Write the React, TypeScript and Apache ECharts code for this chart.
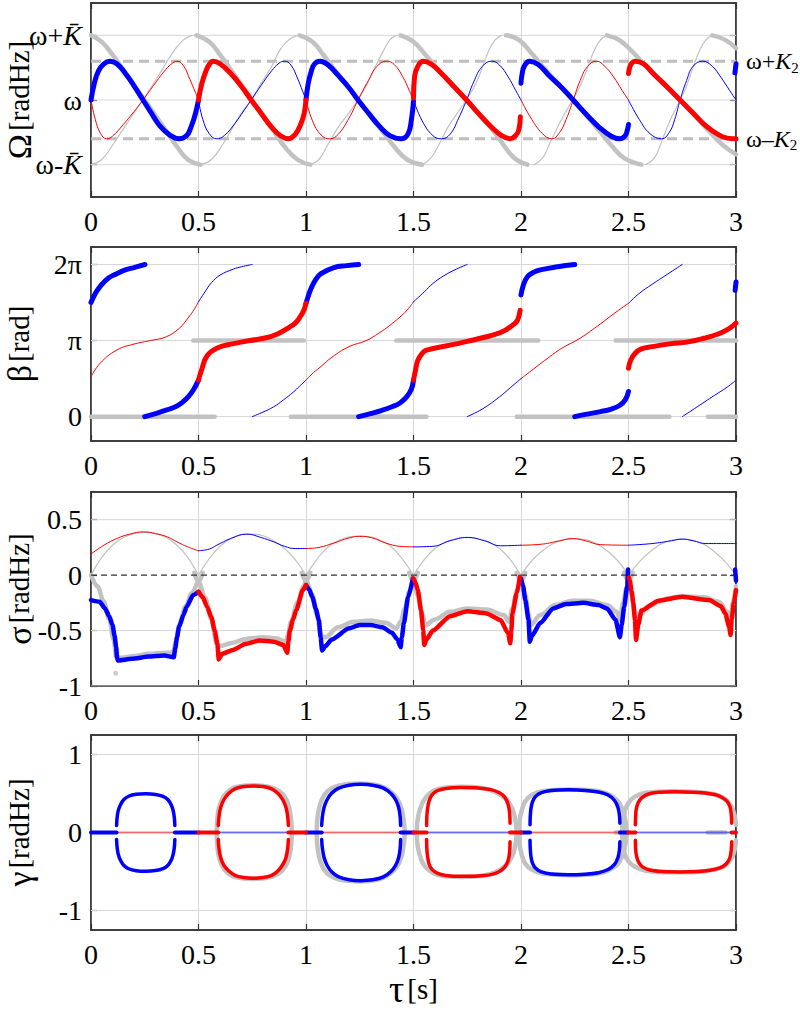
import React, { useEffect, useRef } from 'react';
import * as echarts from 'echarts';

type P = [number, number][];

// ---------- shared ticks ----------
const X_MIN = 0;
const X_MAX = 3;
const X_STEP = 0.5;

// ---------- Panel 1: Ω (offset from ω, in units of K̄) ----------
const OMEGA_TICKS = [-1, 0, 1];
const OMEGA_K2 = [-0.6, 0.6];
const omegaGreyThick: P[] = [
  [[0, 1], [0.05, 0.9], [0.1, 0.7], [0.15, 0.47], [0.2, 0.23], [0.25, 0], [0.3, -0.24], [0.35, -0.48], [0.4, -0.72], [0.45, -0.92], [0.51, -1]],
  [[0.49, 1], [0.55, 0.9], [0.6, 0.7], [0.65, 0.47], [0.7, 0.23], [0.75, 0], [0.8, -0.24], [0.85, -0.48], [0.9, -0.72], [0.96, -0.92], [1.02, -1]],
  [[0.97, 1], [1.03, 0.9], [1.08, 0.7], [1.13, 0.48], [1.19, 0.23], [1.245, 0], [1.3, -0.25], [1.36, -0.5], [1.41, -0.72], [1.47, -0.92], [1.54, -1]],
  [[1.44, 1], [1.5, 0.9], [1.56, 0.68], [1.62, 0.45], [1.68, 0.24], [1.745, 0], [1.81, -0.24], [1.87, -0.47], [1.92, -0.7], [1.97, -0.9], [2.03, -1]],
  [[1.93, 1], [1.99, 0.93], [2.05, 0.72], [2.1, 0.52], [2.17, 0.26], [2.24, 0], [2.31, -0.26], [2.37, -0.5], [2.42, -0.7], [2.48, -0.9], [2.56, -1]],
  [[2.4, 1], [2.46, 0.92], [2.52, 0.74], [2.58, 0.52], [2.66, 0.26], [2.74, 0], [2.81, -0.25], [2.88, -0.5], [2.94, -0.7], [3.0, -0.84]],
  [[2.89, 1], [2.95, 0.93], [3.0, 0.8]],
];
const omegaGreyThin: P[] = [
  [[0, -1], [0.05, -0.92], [0.1, -0.7], [0.15, -0.45], [0.2, -0.2], [0.24, 0], [0.29, 0.25], [0.34, 0.52], [0.39, 0.78], [0.43, 0.93], [0.47, 1]],
  [[0.51, -1], [0.56, -0.92], [0.61, -0.7], [0.655, -0.45], [0.7, -0.2], [0.745, 0], [0.79, 0.25], [0.84, 0.52], [0.88, 0.78], [0.92, 0.93], [0.96, 1]],
  [[1.02, -1], [1.06, -0.92], [1.1, -0.7], [1.15, -0.42], [1.2, -0.2], [1.24, 0], [1.28, 0.22], [1.32, 0.5], [1.36, 0.76], [1.39, 0.93], [1.42, 1]],
  [[1.54, -1], [1.58, -0.9], [1.62, -0.68], [1.66, -0.42], [1.705, -0.2], [1.745, 0], [1.785, 0.22], [1.82, 0.5], [1.85, 0.76], [1.88, 0.93], [1.91, 1]],
  [[2.06, -1], [2.1, -0.9], [2.13, -0.7], [2.17, -0.42], [2.205, -0.2], [2.24, 0], [2.275, 0.22], [2.31, 0.5], [2.34, 0.76], [2.37, 0.93], [2.4, 1]],
  [[2.58, -1], [2.62, -0.9], [2.65, -0.68], [2.68, -0.42], [2.71, -0.2], [2.74, 0], [2.77, 0.22], [2.8, 0.5], [2.83, 0.76], [2.86, 0.93], [2.89, 1]],
];
const omegaThickBlue: P[] = [
  [[0, 0], [0.015, 0.25], [0.035, 0.45], [0.06, 0.56], [0.088, 0.6], [0.12, 0.56], [0.16, 0.41], [0.2, 0.22], [0.242, 0], [0.28, -0.2], [0.32, -0.4], [0.37, -0.55], [0.41, -0.6], [0.445, -0.55], [0.465, -0.42], [0.485, -0.22], [0.5, 0]],
  [[1.0, 0], [1.01, 0.25], [1.025, 0.45], [1.04, 0.56], [1.065, 0.6], [1.1, 0.55], [1.15, 0.38], [1.2, 0.19], [1.242, 0], [1.29, -0.2], [1.34, -0.4], [1.39, -0.55], [1.445, -0.6], [1.475, -0.52], [1.49, -0.31], [1.5, -0.02]],
  [[2.0, 0.26], [2.005, 0.4], [2.015, 0.52], [2.04, 0.6], [2.08, 0.55], [2.13, 0.38], [2.19, 0.19], [2.243, 0], [2.3, -0.21], [2.36, -0.41], [2.42, -0.56], [2.46, -0.6], [2.485, -0.55], [2.495, -0.46], [2.5, -0.38]],
  [[2.995, 0.42], [3.0, 0.56]],
];
const omegaThickRed: P[] = [
  [[0.5, 0], [0.515, 0.25], [0.535, 0.45], [0.55, 0.55], [0.568, 0.6], [0.6, 0.56], [0.65, 0.41], [0.7, 0.21], [0.745, 0], [0.79, -0.2], [0.84, -0.42], [0.88, -0.55], [0.918, -0.6], [0.95, -0.53], [0.975, -0.38], [0.992, -0.2], [1.0, 0]],
  [[1.5, 0.03], [1.505, 0.36], [1.52, 0.52], [1.545, 0.6], [1.58, 0.56], [1.63, 0.41], [1.69, 0.2], [1.747, 0], [1.8, -0.2], [1.86, -0.41], [1.91, -0.55], [1.95, -0.6], [1.975, -0.55], [1.99, -0.46], [1.997, -0.26]],
  [[2.5, 0.41], [2.505, 0.5], [2.515, 0.57], [2.53, 0.6], [2.57, 0.56], [2.615, 0.41], [2.68, 0.2], [2.74, 0], [2.8, -0.2], [2.86, -0.4], [2.92, -0.54], [2.96, -0.59], [3.0, -0.6]],
];
const omegaThinRed: P[] = [
  [[0, 0], [0.02, -0.3], [0.045, -0.52], [0.073, -0.6], [0.1, -0.56], [0.15, -0.38], [0.2, -0.18], [0.242, 0], [0.29, 0.22], [0.34, 0.44], [0.375, 0.56], [0.4, 0.6], [0.43, 0.53], [0.46, 0.32], [0.485, 0.12], [0.5, 0]],
  [[1.0, 0], [1.03, -0.32], [1.07, -0.54], [1.11, -0.6], [1.15, -0.53], [1.2, -0.28], [1.242, 0], [1.29, 0.3], [1.33, 0.52], [1.375, 0.6], [1.41, 0.55], [1.45, 0.36], [1.48, 0.15], [1.5, 0]],
  [[2.0, 0], [2.05, -0.3], [2.1, -0.52], [2.143, -0.6], [2.18, -0.5], [2.21, -0.3], [2.243, 0], [2.275, 0.3], [2.31, 0.52], [2.352, 0.6], [2.39, 0.52], [2.43, 0.36], [2.47, 0.15], [2.5, 0]],
];
const omegaThinBlue: P[] = [
  [[0.5, 0], [0.52, -0.3], [0.55, -0.52], [0.585, -0.6], [0.62, -0.55], [0.67, -0.36], [0.71, -0.17], [0.745, 0], [0.79, 0.22], [0.84, 0.45], [0.875, 0.57], [0.9, 0.6], [0.93, 0.54], [0.96, 0.34], [0.985, 0.13], [1.0, 0]],
  [[1.5, 0], [1.54, -0.32], [1.59, -0.55], [1.63, -0.6], [1.67, -0.53], [1.71, -0.28], [1.747, 0], [1.78, 0.28], [1.82, 0.52], [1.864, 0.6], [1.9, 0.54], [1.94, 0.36], [1.975, 0.15], [2.0, 0]],
  [[2.5, 0], [2.55, -0.3], [2.6, -0.52], [2.654, -0.6], [2.69, -0.5], [2.715, -0.3], [2.74, 0], [2.77, 0.3], [2.8, 0.52], [2.845, 0.6], [2.89, 0.52], [2.93, 0.35], [2.97, 0.15], [3.0, 0]],
];

// ---------- Panel 2: β (in units of π) ----------
const BETA_TICKS = [0, 1, 2];
const BETA_LABELS = ['0', 'π', '2π'];
const betaGreyZero: P[] = [[[0, 0], [0.575, 0]], [[0.93, 0], [1.56, 0]], [[1.98, 0], [2.69, 0]], [[2.87, 0], [3.0, 0]]];
const betaGreyPi: P[] = [[[0.476, 1], [0.99, 1]], [[1.42, 1], [2.08, 1]], [[2.44, 1], [3.0, 1]]];
const betaThickBlue: P[] = [
  [[0, 1.5], [0.02, 1.62], [0.042, 1.71], [0.08, 1.82], [0.12, 1.88], [0.16, 1.93], [0.2, 1.96], [0.251, 2.0]],
  [[0.25, 0], [0.3, 0.04], [0.352, 0.088], [0.4, 0.14], [0.43, 0.2], [0.455, 0.27], [0.476, 0.35], [0.5, 0.48]],
  [[1.0, 1.49], [1.01, 1.58], [1.02, 1.66], [1.045, 1.8], [1.07, 1.88], [1.13, 1.96], [1.19, 1.985], [1.245, 2.0]],
  [[1.245, 0], [1.3, 0.04], [1.35, 0.08], [1.4, 0.13], [1.437, 0.18], [1.468, 0.26], [1.49, 0.36], [1.5, 0.48]],
  [[2.0, 1.6], [2.01, 1.72], [2.03, 1.84], [2.06, 1.9], [2.09, 1.93], [2.17, 1.97], [2.25, 2.0]],
  [[2.25, 0], [2.3, 0.03], [2.37, 0.066], [2.42, 0.1], [2.46, 0.15], [2.485, 0.22], [2.5, 0.33]],
  [[2.996, 1.66], [3.0, 1.77]],
];
const betaThickRed: P[] = [
  [[0.5, 0.48], [0.515, 0.62], [0.54, 0.8], [0.585, 0.9], [0.663, 0.96], [0.74, 1.0], [0.82, 1.04], [0.87, 1.09], [0.92, 1.17], [0.95, 1.23], [0.97, 1.3], [0.99, 1.4], [1.0, 1.49]],
  [[1.5, 0.48], [1.51, 0.62], [1.52, 0.74], [1.54, 0.83], [1.56, 0.875], [1.67, 0.94], [1.75, 0.99], [1.84, 1.05], [1.9, 1.1], [1.93, 1.14], [1.96, 1.2], [1.98, 1.25], [1.99, 1.32], [1.996, 1.4]],
  [[2.5, 0.635], [2.51, 0.74], [2.53, 0.83], [2.56, 0.89], [2.61, 0.92], [2.7, 0.96], [2.77, 0.98], [2.85, 1.03], [2.92, 1.09], [2.97, 1.16], [3.0, 1.23]],
];
const betaThinRed: P[] = [
  [[0, 0.525], [0.042, 0.7], [0.12, 0.875], [0.2, 0.954], [0.276, 1.0], [0.35, 1.05], [0.41, 1.16], [0.455, 1.31], [0.48, 1.41], [0.5, 1.51]],
  [[1.0, 0.48], [1.035, 0.58], [1.07, 0.66], [1.12, 0.78], [1.2, 0.92], [1.28, 1.0], [1.34, 1.1], [1.39, 1.2], [1.437, 1.31], [1.47, 1.4], [1.5, 1.51]],
  [[2.0, 0.5], [2.06, 0.63], [2.13, 0.78], [2.19, 0.9], [2.274, 1.03], [2.37, 1.22], [2.43, 1.35], [2.5, 1.49]],
];
const betaThinBlue: P[] = [
  [[0.5, 1.51], [0.53, 1.64], [0.56, 1.76], [0.6, 1.86], [0.663, 1.94], [0.7, 1.97], [0.75, 2.0]],
  [[0.75, 0], [0.8, 0.06], [0.85, 0.13], [0.895, 0.22], [0.94, 0.32], [0.97, 0.4], [1.0, 0.48]],
  [[1.5, 1.51], [1.55, 1.64], [1.59, 1.75], [1.64, 1.85], [1.7, 1.94], [1.75, 2.0]],
  [[1.75, 0], [1.82, 0.1], [1.9, 0.26], [1.95, 0.38], [2.0, 0.5]],
  [[2.5, 1.49], [2.55, 1.62], [2.61, 1.74], [2.68, 1.87], [2.75, 2.0]],
  [[2.75, 0], [2.82, 0.13], [2.9, 0.28], [2.96, 0.39], [3.0, 0.48]],
];

// ---------- Panel 3: σ [radHz] ----------
const SIGMA_TICKS = [-1, -0.5, 0, 0.5];
const sigmaThinRed: P[] = [
  [[0, 0.19], [0.06, 0.27], [0.12, 0.33], [0.18, 0.37], [0.245, 0.39], [0.3, 0.375], [0.355, 0.345], [0.4, 0.3], [0.45, 0.255], [0.5, 0.22]],
  [[1.0, 0.24], [1.06, 0.25], [1.13, 0.29], [1.2, 0.335], [1.25, 0.35], [1.31, 0.335], [1.37, 0.29], [1.437, 0.26], [1.5, 0.255]],
  [[2.0, 0.27], [2.1, 0.28], [2.18, 0.31], [2.24, 0.33], [2.3, 0.31], [2.37, 0.275], [2.5, 0.27]],
];
const sigmaThinBlue: P[] = [
  [[0.5, 0.22], [0.55, 0.235], [0.585, 0.27], [0.65, 0.33], [0.725, 0.37], [0.79, 0.34], [0.85, 0.3], [0.9, 0.26], [0.95, 0.24], [1.0, 0.24]],
  [[1.5, 0.255], [1.59, 0.26], [1.67, 0.31], [1.75, 0.34], [1.83, 0.31], [1.905, 0.265], [2.0, 0.27]],
  [[2.5, 0.27], [2.61, 0.285], [2.7, 0.31], [2.75, 0.325], [2.8, 0.31], [2.86, 0.285], [3.0, 0.285]],
];
const sigmaGreyArch: P[] = [
  [[0, 0], [0.05, 0.16], [0.1, 0.27], [0.15, 0.34], [0.2, 0.375], [0.25, 0.385], [0.3, 0.375], [0.35, 0.34], [0.4, 0.27], [0.45, 0.16], [0.5, 0]],
  [[0.5, 0], [0.55, 0.15], [0.6, 0.26], [0.65, 0.33], [0.7, 0.365], [0.745, 0.37], [0.8, 0.355], [0.85, 0.31], [0.9, 0.24], [0.95, 0.14], [1.0, 0]],
  [[1.0, 0], [1.05, 0.14], [1.1, 0.25], [1.15, 0.31], [1.2, 0.345], [1.25, 0.352], [1.3, 0.345], [1.35, 0.31], [1.4, 0.25], [1.45, 0.14], [1.5, 0]],
  [[1.5, 0], [1.55, 0.14], [1.6, 0.24], [1.65, 0.3], [1.7, 0.33], [1.75, 0.34], [1.8, 0.33], [1.85, 0.3], [1.9, 0.24], [1.95, 0.14], [2.0, 0]],
  [[2.0, 0], [2.05, 0.13], [2.1, 0.22], [2.15, 0.285], [2.2, 0.32], [2.245, 0.33], [2.3, 0.32], [2.35, 0.285], [2.4, 0.22], [2.45, 0.13], [2.5, 0]],
  [[2.5, 0], [2.55, 0.12], [2.6, 0.21], [2.65, 0.28], [2.7, 0.315], [2.745, 0.325], [2.8, 0.315], [2.85, 0.28], [2.9, 0.21], [2.95, 0.12], [3.0, 0]],
];
const sigmaGreyLow: P[] = [
  [[0, 0], [0.03, -0.1], [0.06, -0.24], [0.085, -0.4], [0.105, -0.58], [0.118, -0.74], [0.14, -0.745], [0.2, -0.73], [0.27, -0.71], [0.34, -0.7], [0.38, -0.7], [0.395, -0.6], [0.41, -0.45], [0.44, -0.28], [0.47, -0.16], [0.5, -0.06], [0.52, 0.02]],
  [[0.48, 0.02], [0.5, -0.06], [0.53, -0.2], [0.56, -0.4], [0.585, -0.62], [0.6, -0.64], [0.66, -0.61], [0.72, -0.575], [0.8, -0.56], [0.86, -0.57], [0.905, -0.6], [0.915, -0.55], [0.93, -0.42], [0.96, -0.25], [0.99, -0.1], [1.0, -0.05], [1.02, 0.02]],
  [[0.98, 0.02], [1.0, -0.05], [1.03, -0.18], [1.05, -0.35], [1.07, -0.55], [1.09, -0.56], [1.15, -0.47], [1.22, -0.42], [1.3, -0.41], [1.37, -0.43], [1.42, -0.48], [1.44, -0.42], [1.46, -0.3], [1.48, -0.15], [1.5, -0.05], [1.52, 0.02]],
  [[1.48, 0.02], [1.5, -0.05], [1.52, -0.18], [1.54, -0.35], [1.555, -0.45], [1.6, -0.4], [1.67, -0.33], [1.75, -0.3], [1.84, -0.31], [1.92, -0.36], [1.945, -0.42], [1.96, -0.3], [1.98, -0.15], [2.0, -0.05], [2.02, 0.02]],
  [[1.98, 0.02], [2.0, -0.05], [2.02, -0.18], [2.035, -0.35], [2.045, -0.45], [2.09, -0.36], [2.16, -0.27], [2.24, -0.23], [2.32, -0.23], [2.4, -0.27], [2.445, -0.33], [2.46, -0.4], [2.475, -0.25], [2.49, -0.12], [2.5, -0.05], [2.52, 0.02]],
  [[2.48, 0.02], [2.5, -0.05], [2.515, -0.18], [2.53, -0.33], [2.545, -0.37], [2.6, -0.27], [2.68, -0.21], [2.75, -0.19], [2.85, -0.2], [2.92, -0.24], [2.96, -0.33], [2.975, -0.4], [2.985, -0.25], [3.0, -0.1]],
];
const sigmaGreyDot: P = [[0.115, -0.885]];
const sigmaThickBlue: P[] = [
  [[0, -0.225], [0.04, -0.24], [0.065, -0.3], [0.085, -0.37], [0.1, -0.45], [0.11, -0.55], [0.117, -0.65], [0.121, -0.74], [0.125, -0.77], [0.19, -0.755], [0.27, -0.735], [0.34, -0.725], [0.385, -0.74], [0.392, -0.66], [0.4, -0.56], [0.41, -0.465], [0.43, -0.36], [0.445, -0.285], [0.475, -0.18], [0.5, -0.15]],
  [[1.0, -0.09], [1.015, -0.13], [1.03, -0.2], [1.045, -0.3], [1.06, -0.405], [1.068, -0.56], [1.075, -0.68], [1.09, -0.64], [1.12, -0.58], [1.2, -0.48], [1.25, -0.45], [1.3, -0.45], [1.355, -0.47], [1.4, -0.52], [1.425, -0.58], [1.44, -0.65], [1.446, -0.56], [1.455, -0.435], [1.475, -0.2], [1.497, -0.03]],
  [[2.0, -0.03], [2.01, -0.1], [2.02, -0.225], [2.035, -0.405], [2.041, -0.6], [2.05, -0.55], [2.09, -0.43], [2.15, -0.3], [2.21, -0.26], [2.29, -0.25], [2.36, -0.27], [2.4, -0.3], [2.44, -0.405], [2.46, -0.56], [2.468, -0.45], [2.48, -0.285], [2.494, -0.1], [2.498, 0.05]],
  [[2.996, 0.05], [3.0, -0.05]],
];
const sigmaThickRed: P[] = [
  [[0.5, -0.15], [0.52, -0.2], [0.54, -0.285], [0.56, -0.38], [0.575, -0.5], [0.588, -0.62], [0.594, -0.76], [0.61, -0.71], [0.66, -0.675], [0.72, -0.62], [0.785, -0.59], [0.85, -0.6], [0.895, -0.63], [0.913, -0.7], [0.918, -0.6], [0.925, -0.5], [0.94, -0.4], [0.955, -0.315], [0.985, -0.135], [1.0, -0.09]],
  [[1.5, -0.03], [1.51, -0.07], [1.52, -0.135], [1.535, -0.315], [1.545, -0.495], [1.55, -0.63], [1.56, -0.58], [1.59, -0.5], [1.67, -0.37], [1.75, -0.325], [1.84, -0.345], [1.905, -0.405], [1.94, -0.525], [1.95, -0.615], [1.955, -0.5], [1.96, -0.345], [1.98, -0.165], [1.995, -0.015]],
  [[2.502, -0.02], [2.506, -0.05], [2.515, -0.15], [2.522, -0.25], [2.53, -0.405], [2.535, -0.585], [2.545, -0.45], [2.56, -0.32], [2.64, -0.23], [2.75, -0.195], [2.875, -0.225], [2.93, -0.28], [2.95, -0.345], [2.968, -0.465], [2.975, -0.54], [2.98, -0.4], [2.99, -0.25], [3.0, -0.135]],
];

// ---------- Panel 4: γ [radHz] ----------
const GAMMA_TICKS = [-1, 0, 1];
const gammaBlueUpper: P[] = [
  [[0.119, 0.09], [0.121, 0.18], [0.126, 0.27], [0.136, 0.35], [0.152, 0.42], [0.175, 0.465], [0.21, 0.49], [0.255, 0.497], [0.3, 0.488], [0.335, 0.463], [0.358, 0.42], [0.374, 0.35], [0.383, 0.27], [0.388, 0.18], [0.39, 0.09]],
  [[1.073, 0.09], [1.076, 0.2], [1.084, 0.32], [1.098, 0.42], [1.118, 0.5], [1.15, 0.565], [1.2, 0.605], [1.255, 0.617], [1.31, 0.607], [1.36, 0.57], [1.395, 0.5], [1.417, 0.42], [1.431, 0.32], [1.438, 0.2], [1.44, 0.09]],
  [[2.042, 0.1], [2.043, 0.2], [2.046, 0.3], [2.053, 0.39], [2.067, 0.46], [2.095, 0.51], [2.14, 0.538], [2.22, 0.547], [2.3, 0.54], [2.36, 0.52], [2.405, 0.48], [2.435, 0.41], [2.451, 0.32], [2.458, 0.22], [2.46, 0.12]],
];
const gammaBlueLower: P[] = [
  [[0.119, -0.09], [0.121, -0.18], [0.126, -0.27], [0.136, -0.35], [0.152, -0.42], [0.175, -0.465], [0.21, -0.49], [0.255, -0.497], [0.3, -0.488], [0.335, -0.463], [0.358, -0.42], [0.374, -0.35], [0.383, -0.27], [0.388, -0.18], [0.39, -0.09]],
  [[1.073, -0.09], [1.076, -0.2], [1.084, -0.32], [1.098, -0.42], [1.118, -0.5], [1.15, -0.565], [1.2, -0.605], [1.255, -0.617], [1.31, -0.607], [1.36, -0.57], [1.395, -0.5], [1.417, -0.42], [1.431, -0.32], [1.438, -0.2], [1.44, -0.09]],
  [[2.042, -0.1], [2.043, -0.2], [2.046, -0.3], [2.053, -0.39], [2.067, -0.455], [2.095, -0.505], [2.14, -0.532], [2.22, -0.542], [2.3, -0.535], [2.36, -0.515], [2.405, -0.475], [2.435, -0.41], [2.451, -0.32], [2.458, -0.22], [2.46, -0.12]],
];
const gammaRedUpper: P[] = [
  [[0.592, 0.09], [0.595, 0.2], [0.603, 0.32], [0.618, 0.42], [0.64, 0.5], [0.67, 0.56], [0.71, 0.59], [0.755, 0.597], [0.8, 0.59], [0.84, 0.56], [0.87, 0.5], [0.892, 0.42], [0.907, 0.32], [0.915, 0.2], [0.918, 0.09]],
  [[1.561, 0.09], [1.562, 0.2], [1.565, 0.3], [1.572, 0.4], [1.585, 0.48], [1.61, 0.535], [1.65, 0.565], [1.72, 0.577], [1.8, 0.572], [1.86, 0.55], [1.9, 0.51], [1.925, 0.45], [1.94, 0.36], [1.947, 0.25], [1.949, 0.12]],
  [[2.532, 0.1], [2.533, 0.2], [2.536, 0.3], [2.545, 0.38], [2.56, 0.44], [2.59, 0.49], [2.64, 0.515], [2.72, 0.522], [2.8, 0.515], [2.87, 0.5], [2.92, 0.47], [2.955, 0.41], [2.972, 0.33], [2.978, 0.23], [2.98, 0.12]],
];
const gammaRedLower: P[] = [
  [[0.592, -0.09], [0.595, -0.2], [0.603, -0.32], [0.618, -0.42], [0.64, -0.49], [0.67, -0.55], [0.71, -0.578], [0.755, -0.585], [0.8, -0.578], [0.84, -0.55], [0.87, -0.49], [0.892, -0.41], [0.907, -0.32], [0.915, -0.2], [0.918, -0.09]],
  [[1.561, -0.09], [1.562, -0.2], [1.565, -0.3], [1.572, -0.4], [1.585, -0.47], [1.61, -0.52], [1.65, -0.55], [1.72, -0.562], [1.8, -0.558], [1.86, -0.54], [1.9, -0.5], [1.925, -0.44], [1.94, -0.36], [1.947, -0.25], [1.949, -0.12]],
  [[2.532, -0.1], [2.533, -0.2], [2.537, -0.3], [2.547, -0.38], [2.565, -0.44], [2.6, -0.48], [2.66, -0.5], [2.74, -0.505], [2.82, -0.5], [2.88, -0.485], [2.925, -0.455], [2.955, -0.4], [2.972, -0.32], [2.978, -0.22], [2.98, -0.12]],
];
const gammaGreyUpper: P[] = [
  [[0.585, 0], [0.587, 0.15], [0.594, 0.3], [0.61, 0.43], [0.635, 0.52], [0.67, 0.58], [0.755, 0.607], [0.83, 0.585], [0.875, 0.53], [0.905, 0.44], [0.923, 0.3], [0.931, 0.15], [0.934, 0]],
  [[1.05, 0], [1.052, 0.15], [1.06, 0.3], [1.075, 0.43], [1.1, 0.53], [1.15, 0.6], [1.25, 0.627], [1.34, 0.6], [1.39, 0.53], [1.425, 0.43], [1.445, 0.3], [1.455, 0.15], [1.46, 0]],
  [[1.515, 0], [1.518, 0.14], [1.528, 0.28], [1.545, 0.4], [1.575, 0.5], [1.62, 0.56], [1.72, 0.585], [1.82, 0.57], [1.88, 0.52], [1.93, 0.43], [1.96, 0.3], [1.975, 0.15], [1.98, 0]],
  [[1.99, 0], [1.993, 0.14], [2.003, 0.28], [2.02, 0.4], [2.05, 0.48], [2.1, 0.53], [2.22, 0.552], [2.33, 0.54], [2.4, 0.5], [2.445, 0.42], [2.472, 0.3], [2.486, 0.15], [2.49, 0]],
  [[2.47, 0], [2.473, 0.14], [2.483, 0.28], [2.5, 0.38], [2.53, 0.46], [2.58, 0.51], [2.7, 0.53], [2.82, 0.52], [2.9, 0.49], [2.95, 0.43], [2.98, 0.33], [2.995, 0.2], [3.0, 0.1]],
];
const gammaGreyLower: P[] = [
  [[0.585, 0], [0.587, -0.15], [0.594, -0.3], [0.61, -0.43], [0.635, -0.515], [0.67, -0.57], [0.755, -0.595], [0.83, -0.575], [0.875, -0.52], [0.905, -0.43], [0.923, -0.3], [0.931, -0.15], [0.934, 0]],
  [[1.05, 0], [1.052, -0.15], [1.06, -0.3], [1.075, -0.43], [1.1, -0.53], [1.15, -0.6], [1.25, -0.627], [1.34, -0.6], [1.39, -0.53], [1.425, -0.43], [1.445, -0.3], [1.455, -0.15], [1.46, 0]],
  [[1.515, 0], [1.518, -0.14], [1.528, -0.28], [1.545, -0.4], [1.575, -0.49], [1.62, -0.55], [1.72, -0.57], [1.82, -0.555], [1.88, -0.51], [1.93, -0.42], [1.96, -0.3], [1.975, -0.15], [1.98, 0]],
  [[1.99, 0], [1.993, -0.14], [2.003, -0.28], [2.02, -0.4], [2.05, -0.475], [2.1, -0.525], [2.22, -0.548], [2.33, -0.535], [2.4, -0.495], [2.445, -0.42], [2.472, -0.3], [2.486, -0.15], [2.49, 0]],
  [[2.47, 0], [2.473, -0.14], [2.483, -0.28], [2.5, -0.37], [2.53, -0.44], [2.58, -0.49], [2.7, -0.51], [2.82, -0.505], [2.9, -0.475], [2.95, -0.42], [2.98, -0.33], [2.995, -0.2], [3.0, -0.1]],
];
const gammaZeroBlue: P[] = [[[0, 0], [0.119, 0]], [[0.39, 0], [0.5, 0]], [[1.0, 0], [1.073, 0]], [[1.44, 0], [1.5, 0]], [[2.0, 0], [2.042, 0]], [[2.46, 0], [2.5, 0]]];
const gammaZeroRed: P[] = [[[0.5, 0], [0.592, 0]], [[0.918, 0], [1.0, 0]], [[1.5, 0], [1.561, 0]], [[1.949, 0], [2.0, 0]], [[2.5, 0], [2.532, 0]], [[2.98, 0], [3.0, 0]]];
const gammaZeroThinRed: P[] = [[[0.119, 0], [0.39, 0]], [[1.073, 0], [1.44, 0]], [[2.042, 0], [2.46, 0]]];
const gammaZeroThinBlue: P[] = [[[0.592, 0], [0.918, 0]], [[1.561, 0], [1.949, 0]], [[2.532, 0], [2.98, 0]]];
const gammaZeroGrey: P[] = [[[2.44, 0], [2.475, 0]], [[2.87, 0], [2.95, 0]]];

// ---------- styling ----------
const FONT = 'Liberation Serif, DejaVu Serif, serif';
const BLUE = '#0000ff';
const RED = '#ff0000';
const GREY = '#c2c2c2';
const GRIDC = '#d7d7d7';
const FRAME = '#333333';
const TICK_FS = 28;

const PANELS = [
  { top: 3, height: 194, min: -1.5, max: 1.5 },
  { top: 247, height: 194, min: -0.32, max: 2.23 },
  { top: 492, height: 194, min: -1, max: 0.75 },
  { top: 735, height: 195, min: -1.25, max: 1.25 },
];

const nameRich = {
  g: { fontFamily: FONT, fontSize: 34, color: '#000', lineHeight: 34 },
  u: { fontFamily: FONT, fontSize: 29, color: '#000', lineHeight: 34 },
};

function buildOption() {
  const grid = PANELS.map((p) => ({
    left: 91, width: 645, top: p.top, height: p.height,
    containLabel: false, outerBoundsMode: 'none',
    show: true, borderColor: FRAME, borderWidth: 1.5, backgroundColor: 'transparent',
  }));

  const xAxis: any[] = [];
  const yAxis: any[] = [];
  const yNames = ['{g|Ω} {u|[radHz]}', '{g|β} {u|[rad]}', '{g|σ} {u|[radHz]}', '{g|γ} {u|[radHz]}'];
  const yTicks = [OMEGA_TICKS, BETA_TICKS, SIGMA_TICKS, GAMMA_TICKS];

  PANELS.forEach((p, i) => {
    xAxis.push({
      type: 'value', gridIndex: i, min: X_MIN, max: X_MAX, interval: X_STEP, position: 'bottom',
      axisLine: { show: true, onZero: false, lineStyle: { color: FRAME, width: 1.5 } },
      axisTick: { show: true, inside: true, length: 6, lineStyle: { color: FRAME, width: 1.2 } },
      splitLine: { show: true, lineStyle: { color: GRIDC, width: 1 } },
      axisLabel: { fontFamily: FONT, fontSize: TICK_FS, color: '#000', margin: 10, hideOverlap: false },
      name: i === 3 ? '{g|τ} {u|[s]}' : '',
      nameLocation: 'middle', nameGap: 40, nameMoveOverlap: false,
      nameTextStyle: { rich: { g: { fontFamily: FONT, fontSize: 38, color: '#000' }, u: { fontFamily: FONT, fontSize: 29, color: '#000' } } },
    });
    xAxis.push({
      type: 'value', gridIndex: i, min: X_MIN, max: X_MAX, interval: X_STEP, position: 'top',
      axisLine: { show: true, onZero: false, lineStyle: { color: FRAME, width: 1.5 } },
      axisTick: { show: true, inside: true, length: 6, lineStyle: { color: FRAME, width: 1.2 } },
      splitLine: { show: false }, axisLabel: { show: false },
    });

    let labelFormatter: any = undefined;
    let labelRich: any = undefined;
    if (i === 0) {
      labelFormatter = (v: number) => (v > 0.5 ? '{a|ω+}{k|K\u0304}' : v < -0.5 ? '{a|ω-}{k|K\u0304}' : '{a|ω}');
      labelRich = {
        a: { fontFamily: FONT, fontSize: TICK_FS, color: '#000' },
        k: { fontFamily: FONT, fontSize: TICK_FS, color: '#000', fontStyle: 'italic' },
      };
    } else if (i === 1) {
      labelFormatter = (v: number) => BETA_LABELS[BETA_TICKS.indexOf(Math.round(v))] ?? '';
    }
    yAxis.push({
      type: 'value', gridIndex: i, min: p.min, max: p.max, position: 'left',
      axisLine: { show: true, onZero: false, lineStyle: { color: FRAME, width: 1.5 } },
      axisTick: { show: true, inside: true, length: 6, customValues: yTicks[i], lineStyle: { color: FRAME, width: 1.2 } },
      splitLine: { show: false },
      axisLabel: {
        fontFamily: FONT, fontSize: TICK_FS, color: '#000', margin: 9, hideOverlap: false,
        customValues: yTicks[i], formatter: labelFormatter, rich: labelRich,
      },
      name: yNames[i], nameLocation: 'middle', nameRotate: 90, nameGap: 55, nameMoveOverlap: false,
      nameTextStyle: { rich: nameRich },
    });
    yAxis.push({
      type: 'value', gridIndex: i, min: p.min, max: p.max, position: 'right',
      axisLine: { show: true, onZero: false, lineStyle: { color: FRAME, width: 1.5 } },
      axisTick: { show: true, inside: true, length: 6, customValues: yTicks[i], lineStyle: { color: FRAME, width: 1.2 } },
      splitLine: { show: false },
      axisLabel: i === 0
        ? {
            show: true, margin: 10, customValues: OMEGA_K2,
            formatter: (v: number) => (v > 0 ? '{a|ω+}{k|K}{s|2}' : '{a|ω–}{k|K}{s|2}'),
            rich: {
              a: { fontFamily: FONT, fontSize: 24, color: '#000', lineHeight: 28 },
              k: { fontFamily: FONT, fontSize: 24, color: '#000', fontStyle: 'italic', lineHeight: 28 },
              s: { fontFamily: FONT, fontSize: 15, color: '#000', lineHeight: 14, verticalAlign: 'bottom' },
            },
          }
        : { show: false },
    });
  });

  const series: any[] = [];
  const line = (panel: number, data: P, color: string, width: number, z: number, extra: any = {}) => {
    series.push({
      type: 'line', xAxisIndex: panel * 2, yAxisIndex: panel * 2, data,
      showSymbol: false, symbol: 'none', smooth: 0.35, smoothMonotone: 'x', silent: true, z,
      lineStyle: { color, width, cap: 'round', join: 'round' },
      ...extra,
    });
  };
  const flat = (panel: number, y: number, color: string, width: number, z: number, type: any = 'solid') => {
    series.push({
      type: 'line', xAxisIndex: panel * 2, yAxisIndex: panel * 2, data: [[X_MIN, y], [X_MAX, y]],
      showSymbol: false, symbol: 'none', silent: true, z,
      lineStyle: { color, width, type },
    });
  };
  const soft = { smooth: 0.45, smoothMonotone: undefined };

  // horizontal grid lines
  OMEGA_TICKS.forEach((v) => flat(0, v, GRIDC, 1, 1));
  OMEGA_K2.forEach((v) => flat(0, v, '#bdbdbd', 3, 2, [10, 6]));
  BETA_TICKS.forEach((v) => flat(1, v, GRIDC, 1, 1));
  SIGMA_TICKS.filter((v) => v !== 0).forEach((v) => flat(2, v, GRIDC, 1, 1));
  GAMMA_TICKS.forEach((v) => flat(3, v, GRIDC, 1, 1));

  // panel 1
  omegaGreyThin.forEach((d) => line(0, d, GREY, 1.2, 3, soft));
  omegaGreyThick.forEach((d) => line(0, d, GREY, 4.5, 3, soft));
  omegaThinRed.forEach((d) => line(0, d, RED, 1, 4, soft));
  omegaThinBlue.forEach((d) => line(0, d, BLUE, 1, 4, soft));
  omegaThickBlue.forEach((d) => line(0, d, BLUE, 5, 5, soft));
  omegaThickRed.forEach((d) => line(0, d, RED, 5, 5, soft));

  // panel 2
  betaGreyZero.forEach((d) => line(1, d, GREY, 4.5, 3));
  betaGreyPi.forEach((d) => line(1, d, GREY, 4.5, 3));
  betaThinRed.forEach((d) => line(1, d, RED, 1, 4, soft));
  betaThinBlue.forEach((d) => line(1, d, BLUE, 1, 4, soft));
  betaThickBlue.forEach((d) => line(1, d, BLUE, 5, 5, soft));
  betaThickRed.forEach((d) => line(1, d, RED, 5, 5, soft));

  // panel 3
  sigmaGreyArch.forEach((d) => line(2, d, GREY, 1.2, 3, soft));
  sigmaGreyLow.forEach((d) => line(2, d, GREY, 4.5, 3));
  series.push({
    type: 'scatter', xAxisIndex: 4, yAxisIndex: 4, data: sigmaGreyDot, symbolSize: 5,
    itemStyle: { color: GREY }, silent: true, z: 3,
  });
  flat(2, 0, '#333', 1.3, 4, [6, 4]);
  sigmaThinRed.forEach((d) => line(2, d, RED, 1, 4, soft));
  sigmaThinBlue.forEach((d) => line(2, d, BLUE, 1, 4, soft));
  sigmaThickBlue.forEach((d) => line(2, d, BLUE, 4.5, 5, { smooth: 0.2 }));
  sigmaThickRed.forEach((d) => line(2, d, RED, 4.5, 5, { smooth: 0.2 }));

  // panel 4
  const ell = { smooth: 0.3, smoothMonotone: undefined };
  gammaGreyUpper.forEach((d) => line(3, d, GREY, 4.5, 3, ell));
  gammaGreyLower.forEach((d) => line(3, d, GREY, 4.5, 3, ell));
  gammaZeroGrey.forEach((d) => line(3, d, GREY, 4.5, 3));
  gammaZeroThinRed.forEach((d) => line(3, d, 'rgba(255,0,0,0.5)', 2, 4));
  gammaZeroThinBlue.forEach((d) => line(3, d, 'rgba(0,0,255,0.5)', 2, 4));
  gammaZeroBlue.forEach((d) => line(3, d, BLUE, 4, 5));
  gammaZeroRed.forEach((d) => line(3, d, RED, 4, 5));
  gammaBlueUpper.forEach((d) => line(3, d, BLUE, 3.5, 5, ell));
  gammaBlueLower.forEach((d) => line(3, d, BLUE, 3.5, 5, ell));
  gammaRedUpper.forEach((d) => line(3, d, RED, 3.5, 5, ell));
  gammaRedLower.forEach((d) => line(3, d, RED, 3.5, 5, ell));

  return {
    animation: false,
    backgroundColor: '#ffffff',
    textStyle: { fontFamily: FONT },
    grid, xAxis, yAxis, series,
  };
}

export default function App() {
  const ref = useRef<HTMLDivElement>(null);
  useEffect(() => {
    if (!ref.current) return;
    const chart = echarts.init(ref.current, undefined, { renderer: 'svg' });
    chart.setOption(buildOption() as any);
    return () => chart.dispose();
  }, []);
  return <div ref={ref} style={{ position: 'absolute', left: 0, top: 0, width: 800, height: 1012, background: '#fff' }} />;
}
